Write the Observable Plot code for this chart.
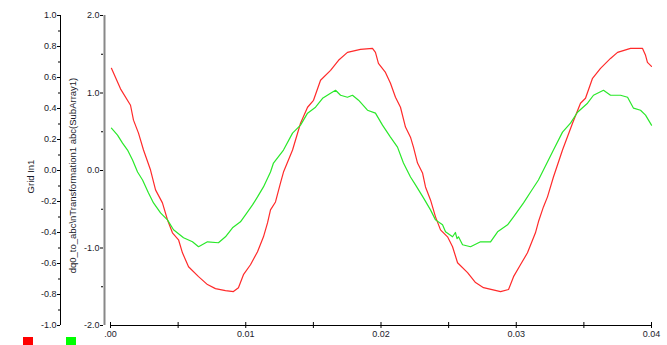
<!DOCTYPE html>
<html>
<head>
<meta charset="utf-8">
<script src="https://cdn.jsdelivr.net/npm/d3@7"></script>
<script src="https://cdn.jsdelivr.net/npm/@observablehq/plot@0.6"></script>
<style>
  html, body { margin: 0; padding: 0; background: #fff; }
  #wrap { position: relative; width: 667px; height: 345px; overflow: hidden; }
  .sw { position: absolute; width: 10px; height: 10px; }
</style>
</head>
<body>
<div id="wrap"></div>
<script>
// ---- data ----
const seriesNames = ["Grid In1", "dq0_to_abc\\nTransformation1 abc(SubArray1)"];
const seriesColors = ["#ff2a2a", "#2ae82a"];

// Grid In1 (left axis units, -1..1)
const redT = [0.00007,0.00074,0.00148,0.0017,0.00207,0.00244,0.00296,0.00333,0.00384,0.00421,0.00458,0.00503,0.00532,0.00577,0.00651,0.00717,0.00776,0.0085,0.00909,0.00946,0.00983,0.01035,0.01087,0.01131,0.01161,0.01183,0.0122,0.01257,0.01279,0.01346,0.01405,0.01457,0.01501,0.01553,0.01627,0.01686,0.01752,0.01848,0.01937,0.01959,0.01981,0.02033,0.0207,0.02107,0.02144,0.02181,0.02218,0.0224,0.0227,0.02307,0.02329,0.02366,0.02403,0.0244,0.02492,0.02529,0.02566,0.0264,0.02699,0.02758,0.02884,0.02943,0.0298,0.03031,0.03083,0.03142,0.03164,0.03201,0.03231,0.03275,0.03342,0.03416,0.03475,0.03512,0.03564,0.03623,0.03697,0.03749,0.03845,0.03933,0.03956,0.0397,0.04];
const redV = [0.659,0.527,0.421,0.325,0.241,0.132,0.003,-0.125,-0.209,-0.318,-0.402,-0.447,-0.531,-0.621,-0.685,-0.736,-0.762,-0.775,-0.781,-0.756,-0.672,-0.608,-0.524,-0.428,-0.338,-0.254,-0.203,-0.080,-0.010,0.132,0.305,0.408,0.453,0.582,0.646,0.711,0.762,0.781,0.788,0.762,0.691,0.633,0.563,0.473,0.408,0.280,0.215,0.151,0.048,-0.016,-0.106,-0.190,-0.299,-0.383,-0.428,-0.492,-0.595,-0.659,-0.723,-0.756,-0.781,-0.768,-0.685,-0.608,-0.531,-0.402,-0.331,-0.235,-0.170,-0.042,0.132,0.305,0.434,0.466,0.595,0.659,0.723,0.762,0.788,0.788,0.743,0.698,0.672];

// dq0_to_abc (right axis units, -2..2)
const greenT = [0.00007,0.00052,0.00089,0.00126,0.00163,0.002,0.00237,0.00281,0.00318,0.0037,0.00421,0.00466,0.0054,0.00606,0.00651,0.00717,0.00798,0.0085,0.00902,0.00961,0.00998,0.0105,0.01087,0.01131,0.01183,0.01205,0.01279,0.01346,0.01405,0.01457,0.01516,0.01568,0.01627,0.01664,0.01701,0.01752,0.01789,0.01834,0.019,0.01959,0.02011,0.0207,0.02122,0.02166,0.02218,0.02255,0.02314,0.02366,0.02403,0.02455,0.02477,0.02529,0.0255,0.02562,0.02573,0.02603,0.02662,0.02736,0.0281,0.02862,0.02936,0.0298,0.03054,0.03106,0.03164,0.03201,0.03275,0.03342,0.03401,0.03453,0.03527,0.03571,0.03645,0.03697,0.03771,0.03823,0.03867,0.03919,0.03956,0.04];
const greenV = [0.547,0.457,0.354,0.264,0.135,-0.019,-0.122,-0.289,-0.418,-0.547,-0.637,-0.765,-0.868,-0.920,-0.984,-0.920,-0.932,-0.855,-0.740,-0.662,-0.572,-0.444,-0.341,-0.212,-0.019,0.096,0.264,0.482,0.585,0.740,0.817,0.932,0.997,1.035,0.971,0.945,0.971,0.907,0.778,0.740,0.585,0.431,0.302,0.096,-0.084,-0.186,-0.354,-0.508,-0.637,-0.701,-0.791,-0.855,-0.80,-0.88,-0.855,-0.958,-0.984,-0.920,-0.920,-0.791,-0.701,-0.598,-0.418,-0.277,-0.122,0.006,0.264,0.495,0.611,0.752,0.868,0.971,1.035,0.971,0.971,0.945,0.804,0.778,0.714,0.585];

// tick values
const leftMajor = [-1, -0.8, -0.6, -0.4, -0.2, 0, 0.2, 0.4, 0.6, 0.8, 1];
const leftMinor = [-0.9, -0.7, -0.5, -0.3, -0.1, 0.1, 0.3, 0.5, 0.7, 0.9];
const rightMajor = [-2, -1, 0, 1, 2];
const rightMinor = [-1.5, -0.5, 0.5, 1.5];
const xMajor = [0, 0.01, 0.02, 0.03, 0.04];
const xMinor = [0, 0.005, 0.01, 0.015, 0.02, 0.025, 0.03, 0.035, 0.04];

// ---- build ----
const red = redT.map((t, i) => ({t, v: redV[i]}));
const green = greenT.map((t, i) => ({t, v: greenV[i]}));
const ink = "#1a1a2a";

const chart = Plot.plot({
  width: 667,
  height: 345,
  marginLeft: 110,
  marginRight: 16,
  marginTop: 15,
  marginBottom: 20,
  style: {fontFamily: "Liberation Sans, Arial, sans-serif", fontSize: "9px", color: ink, background: "#fff"},
  x: {domain: [0, 0.04], axis: null},
  y: {domain: [-1, 1], axis: null},
  marks: [
    // left axis: Grid In1
    Plot.ruleX([0], {y1: -1, y2: 1, dx: -50, stroke: "#000", strokeWidth: 1}),
    Plot.axisY({ticks: leftMajor, anchor: "left", label: null, dx: -50, tickSize: 3, tickPadding: 1, tickFormat: d => d.toFixed(1), stroke: "#000", fill: ink}),
    Plot.axisY({ticks: leftMinor, anchor: "left", label: null, dx: -50, tickSize: 2, tickFormat: () => "", stroke: "#000"}),
    Plot.text([seriesNames[0]], {frameAnchor: "left", textAnchor: "middle", rotate: -90, dx: -80, dy: 6, fill: ink, fontSize: 9.5}),
    // second axis: dq0_to_abc
    Plot.ruleX([0], {y1: -1, y2: 1, dx: -6, stroke: "#888", strokeWidth: 2}),
    Plot.axisY({ticks: rightMajor.map(v => v / 2), anchor: "left", label: null, dx: -7, tickSize: 3, tickPadding: 1, tickFormat: d => (d * 2).toFixed(1), stroke: "#000", fill: ink}),
    Plot.axisY({ticks: rightMinor.map(v => v / 2), anchor: "left", label: null, dx: -7, tickSize: 2, tickFormat: () => "", stroke: "#000"}),
    Plot.text([seriesNames[1]], {frameAnchor: "left", textAnchor: "middle", rotate: -90, dx: -38, dy: 5, fill: ink, fontSize: 9.5}),
    // x axis
    Plot.ruleY([-1], {x1: 0, x2: 0.04, stroke: "#000", strokeWidth: 1}),
    Plot.axisX({ticks: xMinor, anchor: "bottom", label: null, tickSize: 3, tickFormat: () => "", stroke: "#000"}),
    Plot.axisX({ticks: xMinor, anchor: "bottom", label: null, tickSize: 3, dy: -3, tickFormat: () => "", stroke: "#000"}),
    Plot.axisX({ticks: xMajor, anchor: "bottom", label: null, tickSize: 0, tickPadding: 5, tickFormat: d => d === 0 ? ".00" : d.toFixed(2), fill: ink}),
    // series
    Plot.line(red, {x: "t", y: "v", stroke: seriesColors[0], strokeWidth: 1.2, curve: "linear"}),
    Plot.line(green, {x: "t", y: d => d.v / 2, stroke: seriesColors[1], strokeWidth: 1.2, curve: "linear"})
  ]
});

const wrap = document.getElementById("wrap");
wrap.appendChild(chart);
// legend swatches
[[23, seriesColors[0]], [66, seriesColors[1]]].forEach(([left, c], i) => {
  const s = document.createElement("div");
  s.className = "sw";
  s.style.left = left + "px";
  s.style.top = "337px";
  s.style.background = i === 0 ? "#ff0000" : "#00ff00";
  s.title = seriesNames[i];
  wrap.appendChild(s);
});
</script>
</body>
</html>
